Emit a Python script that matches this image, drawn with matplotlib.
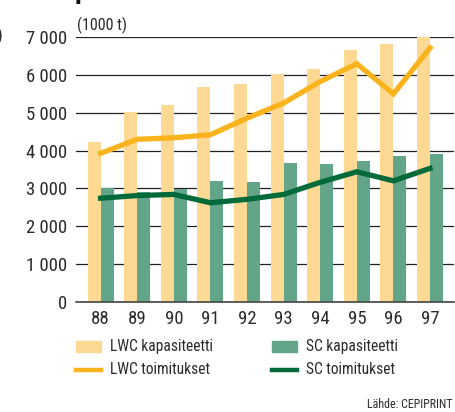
import numpy as np
import matplotlib.pyplot as plt
from matplotlib.patches import Rectangle
from matplotlib.lines import Line2D

vuodet = ['88', '89', '90', '91', '92', '93', '94', '95', '96', '97']
lwc_kapasiteetti = [4230, 5010, 5210, 5690, 5770, 6020, 6170, 6670, 6830, 7000]
sc_kapasiteetti = [3010, 2900, 2990, 3190, 3170, 3670, 3640, 3720, 3850, 3900]
lwc_toimitukset = [3930, 4300, 4340, 4420, 4860, 5260, 5830, 6300, 5500, 6720]
sc_toimitukset = [2740, 2810, 2840, 2620, 2710, 2840, 3160, 3440, 3200, 3530]

c_lwc_bar = '#fdd994'
c_sc_bar = '#63a589'
c_lwc_line = '#f9b31c'
c_sc_line = '#006a3a'
txt = '#2b2b2b'

plt.rcParams['font.family'] = ['Roboto Condensed', 'DejaVu Sans']

W, H = 456, 412
fig = plt.figure(figsize=(W / 100, H / 100), dpi=100)
ax = fig.add_axes([76 / W, 1 - 301.7 / H, (454 - 76) / W, (301.7 - 37.3) / H])

x = np.arange(len(vuodet))
w = 0.355
ax.set_axisbelow(True)
ax.yaxis.grid(True, color='#222222', linewidth=0.9)
ax.bar(x - w, lwc_kapasiteetti, width=w, align='edge', color=c_lwc_bar, zorder=2)
ax.bar(x, sc_kapasiteetti, width=w, align='edge', color=c_sc_bar, zorder=2)
ax.plot(x, lwc_toimitukset, color=c_lwc_line, linewidth=3.8, zorder=3, solid_joinstyle='miter')
ax.plot(x, sc_toimitukset, color=c_sc_line, linewidth=3.8, zorder=3, solid_joinstyle='miter')

ax.set_xlim(-0.675, 9.656)
ax.set_ylim(0, 7000)
ax.set_yticks(range(0, 7001, 1000))
ax.set_yticklabels([f'{v:,}'.replace(',', ' ') for v in range(0, 7001, 1000)])
ax.set_xticks(x)
ax.set_xticklabels(vuodet)
ax.tick_params(length=0, labelsize=13.5, colors=txt, pad=6)
ax.tick_params(axis='x', pad=6)
for s in ['top', 'right', 'left']:
    ax.spines[s].set_visible(False)
ax.spines['bottom'].set_color('#444444')
ax.spines['bottom'].set_linewidth(1.2)
ax.patch.set_alpha(0)

fig.text(77 / W, 1 - 25 / H, '(1000 t)', fontsize=11.5, color=txt, va='center', ha='left')

# legenda
def fy(py):
    return 1 - py / H

items = [
    (76, 101, 110, c_lwc_bar, 346, 'LWC kapasiteetti', 'patch'),
    (271.7, 296.7, 306, c_sc_bar, 346, 'SC kapasiteetti', 'patch'),
    (76, 101, 110, c_lwc_line, 370, 'LWC toimitukset', 'line'),
    (271.7, 296.7, 306, c_sc_line, 370, 'SC toimitukset', 'line'),
]
for x0, x1, xt, col, py, label, kind in items:
    if kind == 'patch':
        fig.add_artist(Rectangle((x0 / W, fy(py + 5.5)), (x1 - x0) / W, 11 / H,
                                 transform=fig.transFigure, color=col))
    else:
        fig.add_artist(Line2D([x0 / W, x1 / W], [fy(py), fy(py)],
                              transform=fig.transFigure, color=col, linewidth=3.2))
    fig.text(xt / W, fy(py), label, fontsize=11.2, color=txt, va='center', ha='left')

fig.text(453 / W, fy(404), 'Lähde: CEPIPRINT', fontsize=8.6, color=txt, va='center', ha='right')

# katkenneet reunatekstit
fig.text(75 / W, fy(-10), 'p', fontsize=20, fontweight='bold', color='#111111', va='center', ha='left')
fig.text(-4 / W, fy(36), ')', fontsize=13, color=txt, va='center', ha='left')

fig.savefig('out.png', dpi=100)
